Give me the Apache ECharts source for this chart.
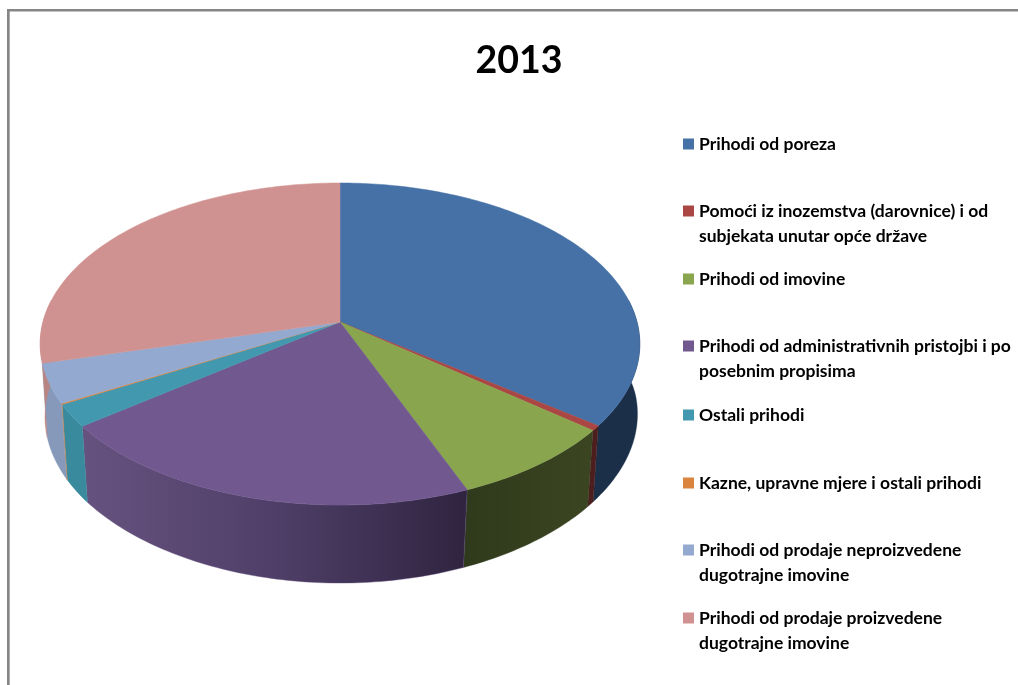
<!DOCTYPE html>
<html>
<head>
<meta charset="utf-8">
<style>html,body{margin:0;padding:0;background:#fff;overflow:hidden}#c{width:1018px;height:685px}</style>
<script src="https://cdn.jsdelivr.net/npm/echarts@6/dist/echarts.min.js"></script>
</head>
<body>
<div id="c"></div>
<script>
var title = '2013';
var categories = [
  'Prihodi od poreza',
  'Pomoći iz inozemstva (darovnice) i od\nsubjekata unutar opće države',
  'Prihodi od imovine',
  'Prihodi od administrativnih pristojbi i po\nposebnim propisima',
  'Ostali prihodi',
  'Kazne, upravne mjere i ostali prihodi',
  'Prihodi od prodaje neproizvedene\ndugotrajne imovine',
  'Prihodi od prodaje proizvedene\ndugotrajne imovine'
];
var values = [35.3, 0.5, 8.1, 20.75, 2.25, 0.1, 3.95, 29.05];

// styles, kept apart from the data
var topColors = ['#4571a6','#aa4643','#89a54e','#71588f','#4198af','#db843d','#93a9cf','#d09291'];
var wallColors = [
  [[0,'#1b2f49'],[1,'#1b2f49']],
  [[0,'#4c1f1e'],[1,'#4c1f1e']],
  [[0,'#2f3a1c'],[1,'#3c4521']],
  [[0,'#66527f'],[0.5,'#4f3f68'],[1,'#2f2440']],
  [[0,'#3a8a9e'],[1,'#3a8a9e']],
  [[0,'#c88448'],[1,'#c88448']],
  [[0,'#8799bb'],[1,'#8599bb']],
  [[0,'#b98583'],[1,'#b98583']]
];
var legendFirstLineY = [144, 211, 279, 346, 415, 483, 550, 618];
var LINE = 25.5;

// perspective of the pie disc
var CX = 340, CY = 322, B = 297, A = 158, K = 0.1366;
var WALL_SX = 0.995, WALL_SC = 0.000143, WALL_SY = 1.026, WALL_D = 73.3, WALL_LEFT = 0.01;
var total = values.reduce(function (a, b) { return a + b; }, 0);

function project(deg) {
  var r = deg * Math.PI / 180, u = Math.sin(r), v = Math.cos(r), w = 1 + K * v;
  return [B * u / w, -A * v / w];
}
function topPt(deg) { var p = project(deg); return [CX + p[0], CY + p[1]]; }
function botPt(deg) {
  var p = project(deg);
  var sx = WALL_SX - WALL_SC * Math.max(0, p[1]);
  if (p[0] < 0) sx -= WALL_LEFT * Math.max(0, 1 - Math.max(0, p[1]) / 100);
  return [CX + sx * p[0], CY + WALL_SY * p[1] + WALL_D];
}
function arc(from, to, fn) {
  var pts = [], n = Math.max(2, Math.ceil(Math.abs(to - from))), i;
  for (i = 0; i <= n; i++) pts.push(fn(from + (to - from) * i / n));
  return pts;
}

function makeRender(idx) {
  return function (params, api) {
    var before = 0, i;
    for (i = 0; i < idx; i++) before += values[i];
    var start = before / total * 360;
    var end = (before + api.value(0)) / total * 360;
    var children = [];
    var a = Math.max(start, 82), b = Math.min(end, 278);
    if (b > a) {
      var wall = arc(a, b, topPt).concat(arc(b, a, botPt));
      var grad = new echarts.graphic.LinearGradient(0, 0, 1, 0,
        wallColors[idx].map(function (s) { return { offset: s[0], color: s[1] }; }));
      children.push({
        type: 'polygon', z2: 1,
        shape: { points: wall },
        style: { fill: grad, stroke: wallColors[idx][0][1], lineWidth: 0.4 }
      });
    }
    children.push({
      type: 'polygon', z2: 2 + idx,
      shape: { points: [[CX, CY]].concat(arc(start, end, topPt)) },
      style: { fill: topColors[idx], stroke: topColors[idx], lineWidth: 0.5 }
    });
    return { type: 'group', children: children };
  };
}

var series = categories.map(function (name, i) {
  return {
    type: 'custom',
    name: name,
    coordinateSystem: 'none',
    silent: true,
    animation: false,
    itemStyle: { color: topColors[i] },
    data: [[values[i]]],
    renderItem: makeRender(i)
  };
});

var legends = categories.map(function (name, i) {
  var two = name.indexOf('\n') >= 0;
  return {
    data: [name],
    orient: 'vertical',
    left: 683,
    top: legendFirstLineY[i] - (two ? 1.5 * LINE : 0.5 * LINE),
    padding: 0,
    itemWidth: 11,
    itemHeight: 11,
    icon: 'rect',
    selectedMode: false,
    formatter: function (n) { return two ? '\n' + n : n; },
    textStyle: {
      fontFamily: 'Lato',
      fontWeight: 'bold',
      fontSize: 17.5,
      lineHeight: LINE,
      color: '#000'
    }
  };
});

var chart = echarts.init(document.getElementById('c'), null, { renderer: 'canvas' });
chart.setOption({
  animation: false,
  backgroundColor: '#ffffff',
  title: {
    text: title,
    left: 519,
    textAlign: 'center',
    top: 42,
    padding: 0,
    textStyle: { fontFamily: 'Lato', fontWeight: 'bold', fontSize: 37.5, color: '#000' }
  },
  legend: legends,
  series: series,
  graphic: [
    { type: 'rect', silent: true, shape: { x: 7, y: 9, width: 1011, height: 2.5 }, style: { fill: '#868686' } },
    { type: 'rect', silent: true, shape: { x: 7, y: 9, width: 2.7, height: 676 }, style: { fill: '#868686' } }
  ]
});
</script>
</body>
</html>
